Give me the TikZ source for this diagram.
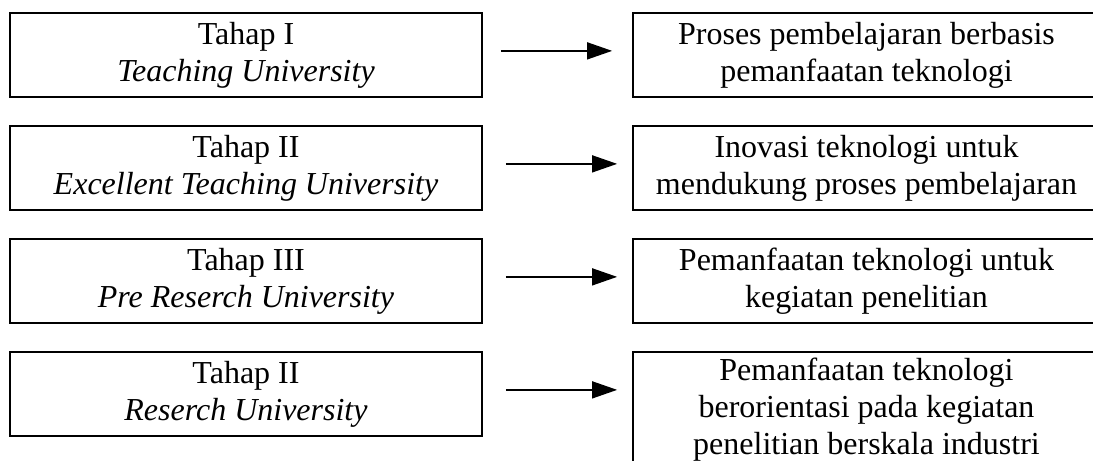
\documentclass[tikz,border=0pt]{standalone}
\usepackage{fontspec}
\setmainfont{Liberation Serif}
\usetikzlibrary{arrows.meta, positioning}

\begin{document}
\begin{tikzpicture}[x=0.4pt, y=-0.4pt,
    stage/.style={draw, line width=0.7pt, anchor=north, align=center, inner sep=0pt,
        minimum width=188.8pt, minimum height=33.6pt, font=\fontsize{12.8}{14.8}\selectfont},
    result/.style={stage, minimum width=186.8pt},
    flow/.style={-{Triangle[length=10pt, width=6.8pt]}, line width=0.6pt,
        shorten <=9.2pt, shorten >=6pt}]
\useasboundingbox (0,0) rectangle (1093,460);
\clip (0,0) rectangle (1093,460);
\def\gap{113}
% tahap (kiri)
\node[stage] (t1) at (246,12) {Tahap I\\\textit{Teaching University}};
\node[stage] (t2) at (246,12+\gap) {Tahap II\\\textit{Excellent Teaching University}};
\node[stage] (t3) at (246,12+2*\gap) {Tahap III\\\textit{Pre Reserch University}};
\node[stage] (t4) at (246,12+3*\gap) {Tahap II\\\textit{Reserch University}};
% hasil (kanan)
\node[result] (r1) at (866.5,12) {Proses pembelajaran berbasis\\pemanfaatan teknologi};
\node[result] (r2) at (866.5,12+\gap) {Inovasi teknologi untuk\\mendukung proses pembelajaran};
\node[result] (r3) at (866.5,12+2*\gap) {Pemanfaatan teknologi untuk\\kegiatan penelitian};
\node[result, minimum height=46pt] (r4) at (866.5,12+3*\gap) {Pemanfaatan teknologi\\berorientasi pada kegiatan\\penelitian berskala industri};
% panah
\draw[flow, shorten <=7.2pt, shorten >=8pt] ([yshift=1.6pt]t1.east) -- ([yshift=1.6pt]t1.east -| r1.west);
\draw[flow] ([yshift=1.6pt]t2.east) -- ([yshift=1.6pt]t2.east -| r2.west);
\draw[flow] ([yshift=1.6pt]t3.east) -- ([yshift=1.6pt]t3.east -| r3.west);
\draw[flow] ([yshift=1.6pt]t4.east) -- ([yshift=1.6pt]t4.east -| r4.west);
\end{tikzpicture}
\end{document}
